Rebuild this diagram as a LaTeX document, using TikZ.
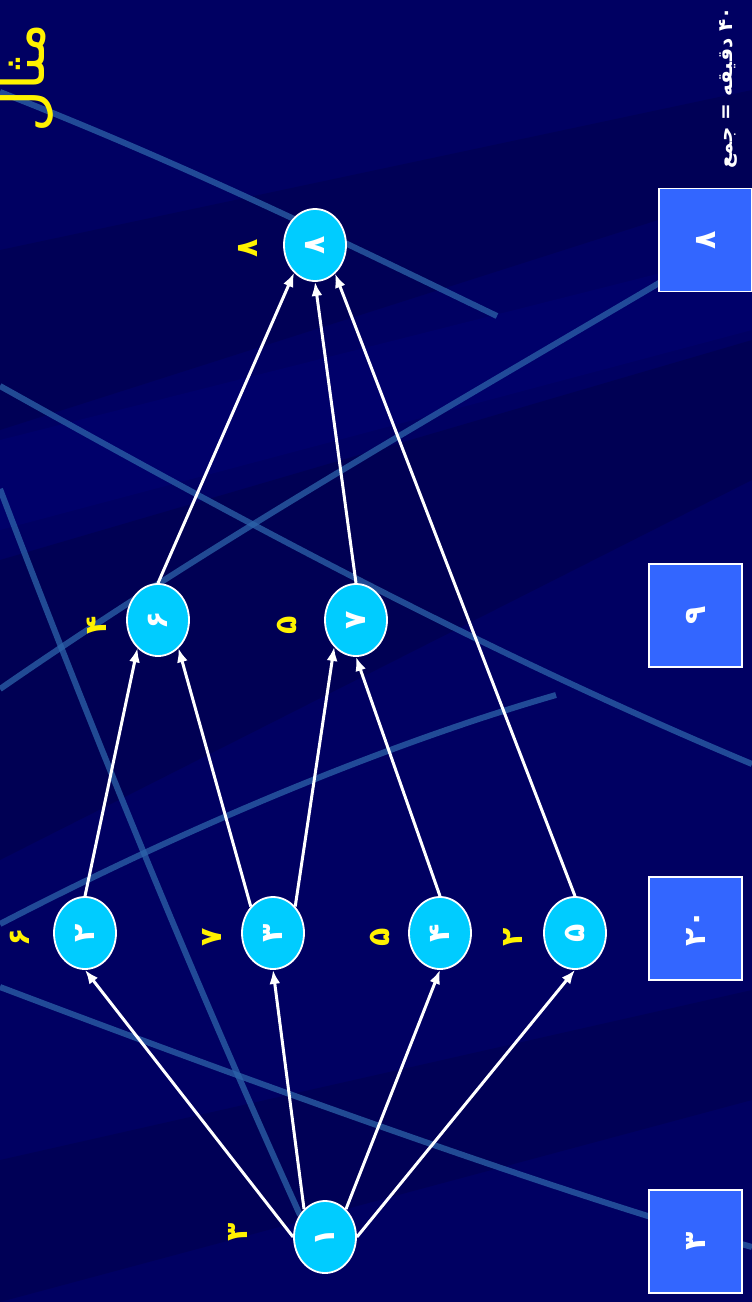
\documentclass[tikz,border=0pt]{standalone}
\usepackage{fontspec}
\usepackage{graphicx}
\usetikzlibrary{arrows.meta, shapes.geometric}
\TeXXeTstate=1
\newfontfamily\farsifont[Script=Arabic]{DejaVu Sans}

\definecolor{slidenavy}{RGB}{0,0,98}
\definecolor{slidedark}{RGB}{0,0,60}
\definecolor{slidelight}{RGB}{0,0,130}
\definecolor{streakblue}{RGB}{45,100,170}
\definecolor{eventcyan}{RGB}{0,204,255}
\definecolor{sumblue}{RGB}{51,102,255}

\begin{document}
\begin{tikzpicture}[
    x=1pt, y=-1pt,
    >={Latex[length=14pt,width=11pt]}, % default arrow tip
    event/.style={ellipse, draw=white, line width=1.8pt, fill=eventcyan,
        minimum width=62pt, minimum height=72pt, inner sep=0pt,
        text=white, font=\farsifont\bfseries\fontsize{30}{30}\selectfont},
    dur/.style={text=yellow, inner sep=0pt, font=\farsifont\bfseries\fontsize{30}{30}\selectfont},
    sumbox/.style={rectangle, draw=white, line width=1.8pt, fill=sumblue,
        minimum width=93pt, minimum height=103pt, inner sep=0pt,
        text=white, font=\farsifont\bfseries\fontsize{30}{30}\selectfont},
    link/.style={->, white, line width=3pt},
    streak/.style={draw=streakblue, line width=6pt, opacity=0.75}
]

    % Slide background
    \fill[slidenavy] (0,0) rectangle (752,1302);
    \useasboundingbox (0,0) rectangle (752,1302);
    \fill[slidedark, opacity=0.3] (0,250) -- (752,90) -- (752,190) -- (0,430) -- cycle;
    \fill[slidelight, opacity=0.25] (0,440) -- (752,250) -- (752,330) -- (0,530) -- cycle;
    \fill[slidedark, opacity=0.35] (0,560) -- (752,340) -- (752,480) -- (0,860) -- cycle;
    \fill[slidedark, opacity=0.3] (0,1160) -- (752,990) -- (752,1100) -- (0,1302) -- cycle;

    % Light streaks
    \draw[streak] (0,92) .. controls (200,170) and (380,260) .. (497,316);
    \draw[streak] (0,386) .. controls (240,520) and (480,650) .. (752,764);
    \draw[streak] (0,689) .. controls (240,523) and (480,390) .. (752,228);
    \draw[streak] (0,489) .. controls (96,741) and (192,976) .. (300,1215);
    \draw[streak] (0,924) .. controls (200,820) and (400,740) .. (556,695);
    \draw[streak] (0,987) .. controls (288,1096) and (576,1198) .. (752,1247);

    % Title and total
    \node[text=yellow, font=\farsifont\fontsize{58}{58}\selectfont] (title) at (27,78)
        {\rotatebox{90}{\beginR مثال\endR}};
    \node[text=white, font=\farsifont\bfseries\fontsize{20}{20}\selectfont] (total) at (728,88)
        {\rotatebox{90}{\beginR\beginL ۴۰\endL{} دقیقه = جمع\endR}};

    % Column sums
    \node[sumbox] (s8) at (705.5,240) {\rotatebox{90}{۸}};
    \node[sumbox] (s9) at (695.5,615.5) {\rotatebox{90}{۹}};
    \node[sumbox] (s20) at (695.5,928.5) {\rotatebox{90}{۲۰}};
    \node[sumbox] (s3) at (695.5,1241.5) {\rotatebox{90}{۳}};

    % Events
    \node[event] (n1) at (325,1237) {\rotatebox{90}{۱}};
    \node[event] (n2) at (85,933) {\rotatebox{90}{۲}};
    \node[event] (n3) at (273,933) {\rotatebox{90}{۳}};
    \node[event] (n4) at (440,933) {\rotatebox{90}{۴}};
    \node[event] (n5) at (575,933) {\rotatebox{90}{۵}};
    \node[event] (n6) at (158,620) {\rotatebox{90}{۶}};
    \node[event] (n7) at (356,620) {\rotatebox{90}{۷}};
    \node[event] (n8) at (315,245) {\rotatebox{90}{۸}};

    % Durations
    \node[dur] (d1) at (238,1232) {\rotatebox{90}{۳}};
    \node[dur] (d2) at (20,937) {\rotatebox{90}{۶}};
    \node[dur] (d3) at (212,937) {\rotatebox{90}{۷}};
    \node[dur] (d4) at (380,937) {\rotatebox{90}{۵}};
    \node[dur] (d5) at (513,937) {\rotatebox{90}{۲}};
    \node[dur] (d6) at (97,625) {\rotatebox{90}{۴}};
    \node[dur] (d7) at (287,625) {\rotatebox{90}{۵}};
    \node[dur] (d8) at (248,248) {\rotatebox{90}{۸}};

    % Precedence links
    \draw[link] (n1.west) -- (n2.south);
    \draw[link] (n1.127) -- (n3.south);
    \draw[link] (n1.53) -- (n4.south);
    \draw[link] (n1.east) -- (n5.south);
    \draw[link] (n2.north) -- (n6.234);
    \draw[link] (n3.130) -- (n6.306);
    \draw[link] (n3.50) -- (n7.231);
    \draw[link] (n4.north) -- (n7.south);
    \draw[link] (n6.north) -- (n8.233);
    \draw[link] (n7.north) -- (n8.south);
    \draw[link] (n5.north) -- (n8.305);

\end{tikzpicture}
\end{document}
